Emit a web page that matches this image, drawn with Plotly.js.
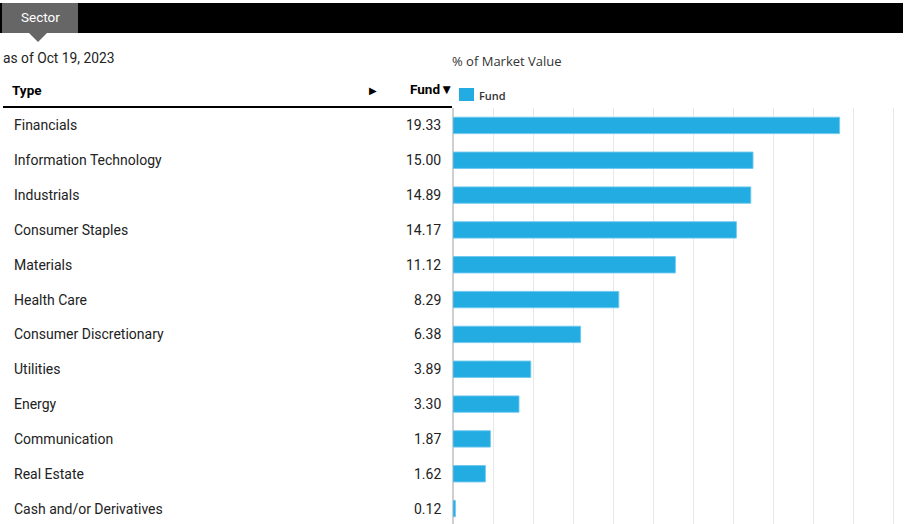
<!DOCTYPE html>
<html>
<head>
<meta charset="utf-8">
<script src="https://cdn.plot.ly/plotly-3.0.1.min.js"></script>
<style>html,body{margin:0;padding:0;background:#fff;overflow:hidden;}#chart{width:904px;height:526px;}</style>
</head>
<body>
<div id="chart"></div>
<script>
const categories = ["Financials","Information Technology","Industrials","Consumer Staples","Materials","Health Care","Consumer Discretionary","Utilities","Energy","Communication","Real Estate","Cash and/or Derivatives"];
const fundValues = [19.33,15.00,14.89,14.17,11.12,8.29,6.38,3.89,3.30,1.87,1.62,0.12];
const seriesName = "Fund";
const asOfText = "as of Oct 19, 2023";
const chartTitle = "% of Market Value";

const W = 904, H = 526;
const L = 453, R = 903, T = 108, B = 526;
const px = x => (x - L) / (R - L);
const py = y => (B - y) / (B - T);
const FONT = "Roboto, 'Open Sans', sans-serif";

const annotations = [];
categories.forEach((c, i) => {
  annotations.push({xref:'paper', yref:'y', x:px(12), y:c, text:c, showarrow:false, xanchor:'left', yanchor:'middle', font:{family:FONT, size:14, color:'#222'}});
  annotations.push({xref:'paper', yref:'y', x:px(443), y:c, text:fundValues[i].toFixed(2), showarrow:false, xanchor:'right', yanchor:'middle', font:{family:FONT, size:14, color:'#222'}});
});
annotations.push({xref:'paper', yref:'paper', x:px(40), y:py(17), text:'Sector', showarrow:false, xanchor:'center', yanchor:'middle', font:{family:FONT, size:13.5, color:'#fff'}});
annotations.push({xref:'paper', yref:'paper', x:px(1), y:py(58), text:asOfText, showarrow:false, xanchor:'left', yanchor:'middle', font:{family:FONT, size:13.8, color:'#222'}});
annotations.push({xref:'paper', yref:'paper', x:px(10), y:py(90), text:'<b>Type</b>', showarrow:false, xanchor:'left', yanchor:'middle', font:{family:FONT, size:13.5, color:'#000'}});
annotations.push({xref:'paper', yref:'paper', x:px(373), y:py(90), text:'▶', showarrow:false, xanchor:'center', yanchor:'middle', font:{family:'DejaVu Sans', size:10, color:'#000'}});
annotations.push({xref:'paper', yref:'paper', x:px(455), y:py(89), text:'<b>Fund</b>▼', showarrow:false, xanchor:'right', yanchor:'middle', font:{family:FONT, size:13.5, color:'#000'}});
annotations.push({xref:'paper', yref:'paper', x:px(450), y:py(61), text:chartTitle, showarrow:false, xanchor:'left', yanchor:'middle', font:{family:"'Open Sans', sans-serif", size:13, color:'#333'}});
annotations.push({xref:'paper', yref:'paper', x:px(477), y:py(95), text:seriesName, showarrow:false, xanchor:'left', yanchor:'middle', font:{family:"'Open Sans', sans-serif", size:11, color:'#333', weight:600}});

const shapes = [
  {type:'rect', xref:'paper', yref:'paper', x0:px(0), x1:px(903), y0:py(33), y1:py(3), fillcolor:'#000', line:{width:0}},
  {type:'rect', xref:'paper', yref:'paper', x0:px(2), x1:px(78), y0:py(33), y1:py(3), fillcolor:'#666', line:{width:0}},
  {type:'path', xref:'paper', yref:'paper', path:`M${px(29)},${py(33)} L${px(47)},${py(33)} L${px(38)},${py(42)} Z`, fillcolor:'#666', line:{width:0}},
  {type:'line', xref:'paper', yref:'paper', x0:px(3), x1:px(452), y0:py(107), y1:py(107), line:{color:'#000', width:2}},
  {type:'rect', xref:'paper', yref:'paper', x0:px(459), x1:px(474), y0:py(101), y1:py(88), fillcolor:'#22ACE2', line:{width:0}}
];

const data = [{
  type:'bar', orientation:'h', name:seriesName,
  x:fundValues, y:categories,
  marker:{color:'#22ACE2', line:{color:'rgba(110,200,240,0.9)', width:1}},
  hoverinfo:'x+y'
}];

const layout = {
  width:W, height:H,
  margin:{l:L, r:W-R, t:T, b:H-B, pad:0},
  paper_bgcolor:'#fff', plot_bgcolor:'#fff',
  showlegend:false,
  bargap:0.53,
  xaxis:{range:[0,22.5], dtick:2, tick0:0, showgrid:true, gridcolor:'#e8e8e8', gridwidth:1, showticklabels:false, zeroline:true, zerolinecolor:'#cfcfcf', zerolinewidth:2, showline:false, fixedrange:true},
  yaxis:{autorange:'reversed', showticklabels:false, showgrid:false, showline:false, ticks:'', fixedrange:true},
  annotations, shapes,
  font:{family:FONT}
};

Plotly.newPlot('chart', data, layout, {displayModeBar:false, staticPlot:true});
</script>
</body>
</html>
